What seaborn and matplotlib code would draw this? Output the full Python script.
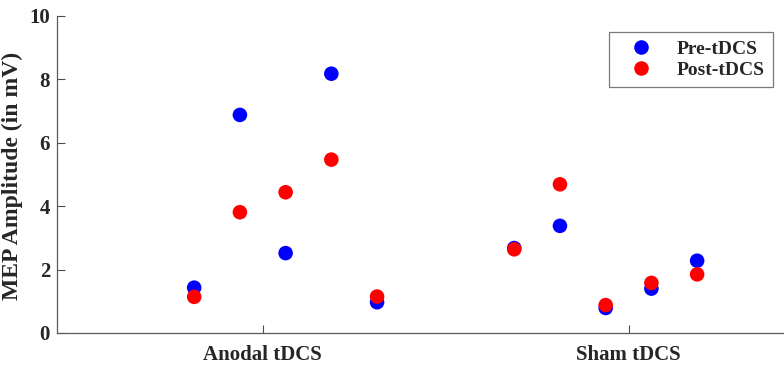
import matplotlib
matplotlib.use("Agg")
import matplotlib.pyplot as plt
import seaborn as sns
import pandas as pd

# gruppi e valori
gruppi = ["Anodal tDCS", "Sham tDCS"]
pre_anodal = [1.43, 6.88, 2.52, 8.18, 0.97]
post_anodal = [1.14, 3.81, 4.44, 5.47, 1.15]
pre_sham = [2.68, 3.38, 0.79, 1.40, 2.28]
post_sham = [2.64, 4.69, 0.88, 1.58, 1.85]
fasi = ["Pre-tDCS", "Post-tDCS"]

# dataframe lungo: prima tutti i Pre, poi i Post (i rossi vanno sopra)
righe = []
for fase, serie in zip(fasi, [(pre_anodal, pre_sham), (post_anodal, post_sham)]):
    for g, valori in enumerate(serie):
        for i, v in enumerate(valori):
            righe.append({"x": g * 7 + i + 1, "MEP": v, "Fase": fase})
df = pd.DataFrame(righe)

sns.set_style("white", {"xtick.bottom": True, "ytick.left": True})
plt.rcParams["font.family"] = ["Liberation Serif", "DejaVu Serif"]
plt.rcParams["font.weight"] = "bold"

fig = plt.figure(figsize=(7.84, 3.80), dpi=100)
ax = fig.add_axes([57 / 784, 47 / 380, 727 / 784, 317 / 380])

sns.scatterplot(data=df, x="x", y="MEP", hue="Fase", hue_order=fasi,
                palette={"Pre-tDCS": "#0000ff", "Post-tDCS": "#ff0000"},
                s=110, edgecolor="none", ax=ax)

ax.set_xlim(-2, 13.9)
ax.set_ylim(0, 10)
ax.set_xticks([2.5, 10.5])
ax.set_xticklabels(gruppi)
ax.set_yticks(range(0, 11, 2))
ax.set_xlabel("")
ax.set_ylabel("MEP Amplitude (in mV)", fontsize=17, fontweight="bold")
ax.yaxis.set_label_coords(-0.047, 0.495)
ax.tick_params(axis="both", direction="in", length=6, width=0.8, colors="0.3",
               labelcolor="0.15", labelsize=15)
ax.tick_params(axis="x", pad=9)
ax.tick_params(axis="y", pad=5)
for lab in ax.get_xticklabels() + ax.get_yticklabels():
    lab.set_fontweight("bold")

for lato in ["top", "right"]:
    ax.spines[lato].set_visible(False)
for lato in ["left", "bottom"]:
    ax.spines[lato].set_color("0.35")
    ax.spines[lato].set_linewidth(0.9)

leg = ax.legend(loc="upper right", bbox_to_anchor=(0.985, 0.95), frameon=True,
                fancybox=False, edgecolor="0.35", borderaxespad=0,
                prop={"weight": "bold", "size": 14}, markerscale=1.0,
                handletextpad=0.6, borderpad=0.45, labelspacing=0.15,
                handlelength=2.4)
leg.get_frame().set_linewidth(0.9)

fig.savefig("out.png", dpi=100)
